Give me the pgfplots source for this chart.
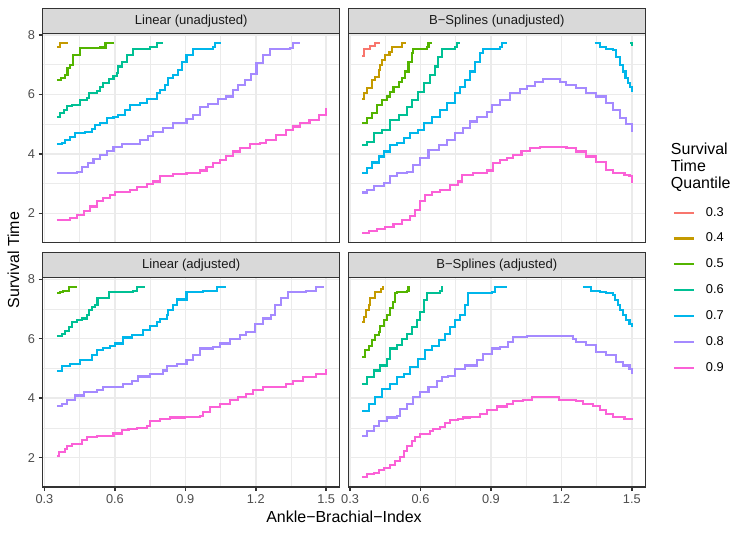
\documentclass[border=0pt]{standalone}
\usepackage{pgfplots}
\pgfplotsset{compat=1.18}
\usepackage{fontspec}
\setmainfont{Liberation Sans}
\definecolor{q3}{HTML}{F8766D}
\definecolor{q4}{HTML}{C49A00}
\definecolor{q5}{HTML}{53B400}
\definecolor{q6}{HTML}{00C094}
\definecolor{q7}{HTML}{00B6EB}
\definecolor{q8}{HTML}{A58AFF}
\definecolor{q9}{HTML}{FB61D7}
\definecolor{grey92}{HTML}{EBEBEB}
\definecolor{grey85}{HTML}{D9D9D9}
\definecolor{grey20}{HTML}{333333}
\definecolor{grey30}{HTML}{4D4D4D}
\definecolor{grey10}{HTML}{1A1A1A}
\pgfplotsset{
  panel/.style={
    scale only axis, width=213.84pt, height=150.768pt,
    xmin=0.2925, xmax=1.5575, ymin=1.011, ymax=8.057,
    xtick={0.3,0.6,0.9,1.2,1.5}, ytick={2,4,6,8},
    minor xtick={0.45,0.75,1.05,1.35}, minor ytick={1,3,5,7},
    grid=both,
    major grid style={draw=grey92, line width=1.07pt},
    minor grid style={draw=grey92, line width=0.53pt},
    axis line style={draw=grey20, line width=1.07pt},
    tick align=outside, tick pos=left,
    major tick length=2.9pt, minor tick length=0pt,
    major tick style={draw=grey20, line width=1.07pt},
    tick label style={font=\fontsize{9.2}{11}\selectfont, text=grey30},
    /pgf/number format/assume math mode=true,
    xticklabel style={anchor=north, inner sep=0pt, yshift=-2.4pt},
    yticklabel style={anchor=east, inner sep=0pt, xshift=-2.4pt},
    every axis plot/.append style={const plot, line width=1.5pt, mark=none},
  },
  noxlab/.style={xticklabels={,,,,,}, xtick style={draw=none}},
  noylab/.style={yticklabels={,,,,,}, ytick style={draw=none}},
}
\begin{document}
\begin{tikzpicture}[x=0.72pt,y=0.72pt]
\path[use as bounding box] (0,0) rectangle (747,534);

% ---------------- Linear (unadjusted)
\begin{axis}[panel, noxlab, at={(30.744pt,209.736pt)}, anchor=south west]
\addplot[color=q4] coordinates {(0.353,7.585) (0.366,7.742) (0.399,7.742)};
\addplot[color=q5] coordinates {(0.353,6.49) (0.372,6.56) (0.386,6.66) (0.398,6.88) (0.410,7.00) (0.420,7.33) (0.450,7.55) (0.537,7.58) (0.560,7.74) (0.597,7.74)};
\addplot[color=q6] coordinates {(0.353,5.23) (0.368,5.37) (0.382,5.48) (0.396,5.61) (0.417,5.65) (0.452,5.81) (0.481,5.87) (0.488,6.04) (0.523,6.13) (0.537,6.24) (0.551,6.37) (0.573,6.51) (0.594,6.62) (0.608,6.73) (0.615,6.94) (0.629,7.10) (0.651,7.33) (0.679,7.52) (0.750,7.61) (0.778,7.74) (0.806,7.74)};
\addplot[color=q7] coordinates {(0.353,4.33) (0.375,4.38) (0.389,4.47) (0.410,4.58) (0.431,4.69) (0.474,4.73) (0.502,4.83) (0.516,4.97) (0.537,5.05) (0.566,5.20) (0.594,5.25) (0.615,5.31) (0.644,5.48) (0.665,5.65) (0.707,5.70) (0.736,5.84) (0.778,6.04) (0.792,6.15) (0.813,6.32) (0.827,6.54) (0.848,6.66) (0.869,6.82) (0.884,7.10) (0.905,7.33) (0.931,7.52) (1.018,7.61) (1.026,7.74) (1.054,7.74)};
\addplot[color=q8] coordinates {(0.353,3.35) (0.438,3.40) (0.460,3.57) (0.484,3.68) (0.509,3.82) (0.537,3.96) (0.566,4.11) (0.594,4.24) (0.629,4.32) (0.679,4.32) (0.707,4.47) (0.742,4.61) (0.764,4.75) (0.806,4.86) (0.848,5.05) (0.905,5.16) (0.933,5.31) (0.961,5.59) (0.997,5.68) (1.040,5.84) (1.075,5.93) (1.104,6.15) (1.125,6.32) (1.153,6.49) (1.181,6.69) (1.203,7.05) (1.231,7.33) (1.259,7.52) (1.344,7.55) (1.358,7.74) (1.387,7.74)};
\addplot[color=q9] coordinates {(0.353,1.76) (0.382,1.78) (0.410,1.83) (0.438,1.95) (0.467,2.09) (0.495,2.23) (0.523,2.40) (0.551,2.51) (0.580,2.62) (0.601,2.73) (0.665,2.79) (0.693,2.90) (0.736,2.98) (0.764,3.07) (0.792,3.26) (0.848,3.33) (0.905,3.37) (0.961,3.44) (0.990,3.57) (1.018,3.68) (1.047,3.80) (1.075,3.93) (1.104,4.08) (1.132,4.19) (1.174,4.32) (1.217,4.36) (1.245,4.47) (1.287,4.64) (1.330,4.81) (1.358,4.92) (1.387,5.05) (1.429,5.14) (1.471,5.31) (1.500,5.53)};
\end{axis}

% ---------------- B-Splines (unadjusted)
\begin{axis}[panel, noxlab, noylab, at={(250.776pt,209.736pt)}, anchor=south west,
  legend style={draw=none, fill=none, inner sep=0pt, outer sep=0pt,
    at={(1.0923,0.170)}, anchor=north west, row sep=10.7pt,
    font=\fontsize{9.2}{11}\selectfont, nodes={inner sep=0pt},
    /tikz/every odd column/.append style={column sep=7.6pt}},
  legend cell align=left,
  legend image code/.code={\draw[#1, line width=1.5pt] (0pt,0pt) -- (14.8pt,0pt);}]
\addplot[color=q3] coordinates {(0.351,7.30) (0.360,7.52) (0.386,7.62) (0.407,7.74) (0.429,7.74)};
\addlegendentry{0.3}
\addplot[color=q4] coordinates {(0.351,5.84) (0.361,6.04) (0.372,6.21) (0.393,6.49) (0.408,6.60) (0.422,6.82) (0.429,6.99) (0.436,7.16) (0.450,7.33) (0.468,7.44) (0.478,7.59) (0.514,7.61) (0.521,7.74) (0.538,7.74)};
\addlegendentry{0.4}
\addplot[color=q5] coordinates {(0.351,5.05) (0.372,5.20) (0.393,5.37) (0.415,5.65) (0.436,5.81) (0.457,5.93) (0.471,6.09) (0.485,6.26) (0.507,6.43) (0.521,6.54) (0.535,6.77) (0.549,7.10) (0.563,7.38) (0.570,7.52) (0.627,7.61) (0.634,7.74) (0.648,7.74)};
\addlegendentry{0.5}
\addplot[color=q6] coordinates {(0.351,4.30) (0.372,4.41) (0.400,4.69) (0.436,4.81) (0.471,5.14) (0.507,5.31) (0.542,5.59) (0.563,5.81) (0.591,6.09) (0.613,6.37) (0.641,6.66) (0.662,6.94) (0.676,7.27) (0.690,7.52) (0.747,7.61) (0.754,7.74) (0.768,7.74)};
\addlegendentry{0.6}
\addplot[color=q7] coordinates {(0.351,3.37) (0.372,3.52) (0.393,3.71) (0.422,3.91) (0.443,4.08) (0.471,4.30) (0.500,4.36) (0.528,4.53) (0.556,4.69) (0.591,4.81) (0.613,5.03) (0.648,5.25) (0.683,5.48) (0.712,5.70) (0.747,6.04) (0.768,6.26) (0.790,6.49) (0.811,6.77) (0.832,7.10) (0.854,7.38) (0.868,7.52) (0.939,7.61) (0.946,7.74) (0.967,7.74)};
\addlegendentry{0.7}
\addplot[color=q8] coordinates {(0.351,2.70) (0.372,2.77) (0.400,2.92) (0.443,3.01) (0.471,3.24) (0.500,3.35) (0.542,3.40) (0.570,3.63) (0.599,3.85) (0.634,4.13) (0.677,4.30) (0.712,4.47) (0.747,4.69) (0.782,4.86) (0.811,5.09) (0.839,5.25) (0.882,5.42) (0.903,5.65) (0.938,5.81) (0.981,6.04) (1.023,6.17) (1.052,6.29) (1.087,6.43) (1.122,6.51) (1.193,6.43) (1.221,6.32) (1.264,6.21) (1.306,6.04) (1.349,5.93) (1.391,5.70) (1.420,5.48) (1.448,5.20) (1.476,5.01) (1.501,4.72)};
\addlegendentry{0.8}
\addplot[color=q9] coordinates {(0.351,1.33) (0.379,1.39) (0.415,1.46) (0.450,1.53) (0.485,1.64) (0.521,1.76) (0.556,1.91) (0.577,2.11) (0.599,2.40) (0.620,2.62) (0.648,2.73) (0.683,2.79) (0.726,2.96) (0.761,3.07) (0.775,3.29) (0.825,3.35) (0.882,3.44) (0.910,3.68) (0.938,3.80) (0.967,3.85) (0.995,3.96) (1.030,4.11) (1.066,4.19) (1.108,4.22) (1.179,4.22) (1.222,4.19) (1.264,4.08) (1.306,3.91) (1.349,3.74) (1.391,3.46) (1.420,3.37) (1.469,3.29) (1.490,3.24) (1.501,3.03)};
\addlegendentry{0.9}
\addplot[color=q6, forget plot] coordinates {(1.494,7.74) (1.500,7.62)};
\addplot[color=q7, forget plot] coordinates {(1.342,7.74) (1.365,7.61) (1.391,7.52) (1.420,7.50) (1.434,7.27) (1.448,6.99) (1.462,6.77) (1.473,6.54) (1.483,6.37) (1.493,6.24) (1.501,6.09)};
\end{axis}

% ---------------- Linear (adjusted)
\begin{axis}[panel, at={(30.744pt,33.84pt)}, anchor=south west]
\addplot[color=q5] coordinates {(0.353,7.55) (0.368,7.58) (0.380,7.60) (0.403,7.74) (0.438,7.74)};
\addplot[color=q6] coordinates {(0.353,6.08) (0.375,6.15) (0.389,6.26) (0.403,6.38) (0.417,6.57) (0.438,6.62) (0.460,6.68) (0.481,6.79) (0.488,6.96) (0.502,7.08) (0.516,7.13) (0.526,7.36) (0.573,7.58) (0.679,7.62) (0.693,7.74) (0.728,7.74)};
\addplot[color=q7] coordinates {(0.353,4.91) (0.375,5.07) (0.410,5.16) (0.452,5.27) (0.502,5.44) (0.523,5.61) (0.551,5.70) (0.580,5.75) (0.601,5.84) (0.636,6.04) (0.672,6.11) (0.707,6.14) (0.721,6.29) (0.750,6.42) (0.778,6.57) (0.792,6.66) (0.820,6.79) (0.827,6.96) (0.848,7.13) (0.866,7.32) (0.905,7.58) (0.976,7.62) (1.033,7.74) (1.075,7.74)};
\addplot[color=q8] coordinates {(0.353,3.73) (0.375,3.81) (0.396,3.94) (0.431,4.09) (0.467,4.20) (0.523,4.28) (0.551,4.37) (0.601,4.37) (0.636,4.48) (0.672,4.59) (0.700,4.73) (0.750,4.82) (0.806,4.93) (0.820,5.07) (0.863,5.16) (0.905,5.27) (0.933,5.44) (0.961,5.67) (1.018,5.72) (1.047,5.84) (1.089,6.00) (1.132,6.12) (1.160,6.23) (1.195,6.51) (1.231,6.68) (1.266,6.79) (1.280,7.13) (1.308,7.36) (1.337,7.58) (1.415,7.62) (1.457,7.74) (1.492,7.74)};
\addplot[color=q9] coordinates {(0.353,2.06) (0.360,2.20) (0.389,2.28) (0.396,2.40) (0.417,2.45) (0.460,2.59) (0.481,2.70) (0.523,2.73) (0.594,2.81) (0.629,2.93) (0.658,2.96) (0.693,2.99) (0.736,3.07) (0.750,3.24) (0.792,3.30) (0.834,3.35) (0.898,3.38) (0.961,3.41) (0.975,3.52) (1.004,3.69) (1.047,3.81) (1.089,3.94) (1.125,4.05) (1.160,4.14) (1.189,4.26) (1.231,4.37) (1.302,4.39) (1.330,4.48) (1.358,4.59) (1.401,4.71) (1.457,4.82) (1.500,4.99)};
\end{axis}

% ---------------- B-Splines (adjusted)
\begin{axis}[panel, noylab, at={(250.776pt,33.84pt)}, anchor=south west]
\addplot[color=q4] coordinates {(0.351,6.57) (0.361,6.74) (0.369,6.96) (0.379,7.13) (0.386,7.36) (0.407,7.58) (0.432,7.66) (0.440,7.74) (0.446,7.74)};
\addplot[color=q5] coordinates {(0.351,5.38) (0.365,5.61) (0.379,5.75) (0.393,5.95) (0.408,6.12) (0.422,6.23) (0.429,6.42) (0.443,6.62) (0.457,6.79) (0.471,7.02) (0.483,7.24) (0.492,7.53) (0.499,7.58) (0.542,7.62) (0.549,7.74) (0.556,7.74)};
\addplot[color=q6] coordinates {(0.351,4.48) (0.372,4.71) (0.400,4.93) (0.429,5.10) (0.457,5.33) (0.471,5.67) (0.500,5.78) (0.521,6.00) (0.542,6.17) (0.563,6.40) (0.584,6.62) (0.598,6.91) (0.613,7.30) (0.627,7.55) (0.683,7.62) (0.690,7.74) (0.697,7.74)};
\addplot[color=q7] coordinates {(0.351,3.58) (0.379,3.81) (0.408,4.03) (0.436,4.31) (0.471,4.48) (0.500,4.71) (0.528,4.82) (0.556,5.05) (0.591,5.33) (0.620,5.61) (0.648,5.75) (0.677,5.95) (0.705,6.17) (0.726,6.40) (0.747,6.62) (0.768,6.79) (0.790,7.13) (0.804,7.55) (0.903,7.58) (0.917,7.74) (0.967,7.74)};
\addplot[color=q7] coordinates {(1.292,7.74) (1.327,7.62) (1.363,7.58) (1.391,7.53) (1.420,7.47) (1.427,7.30) (1.441,7.13) (1.448,6.96) (1.462,6.79) (1.476,6.62) (1.490,6.51) (1.501,6.38)};
\addplot[color=q8] coordinates {(0.351,2.73) (0.372,2.90) (0.400,3.07) (0.422,3.24) (0.457,3.35) (0.500,3.41) (0.514,3.64) (0.542,3.81) (0.570,4.03) (0.599,4.20) (0.634,4.37) (0.669,4.59) (0.690,4.71) (0.719,4.76) (0.747,4.99) (0.790,5.10) (0.839,5.27) (0.867,5.50) (0.903,5.67) (0.938,5.72) (0.974,5.89) (0.995,6.06) (1.052,6.08) (1.250,6.00) (1.264,5.89) (1.306,5.78) (1.349,5.55) (1.391,5.44) (1.434,5.21) (1.462,5.10) (1.490,4.99) (1.501,4.82)};
\addplot[color=q9] coordinates {(0.351,1.35) (0.372,1.44) (0.400,1.49) (0.422,1.57) (0.443,1.64) (0.471,1.75) (0.492,1.89) (0.514,2.02) (0.528,2.23) (0.542,2.40) (0.563,2.56) (0.577,2.68) (0.599,2.79) (0.641,2.88) (0.655,2.96) (0.683,3.02) (0.705,3.15) (0.726,3.28) (0.761,3.30) (0.782,3.35) (0.811,3.38) (0.853,3.47) (0.882,3.60) (0.924,3.72) (0.967,3.81) (0.995,3.90) (1.037,3.94) (1.073,4.05) (1.190,3.94) (1.264,3.92) (1.292,3.81) (1.335,3.75) (1.363,3.60) (1.391,3.47) (1.420,3.38) (1.469,3.30) (1.501,3.28)};
\end{axis}

% ---------------- strips
\begin{scope}[line width=1.07pt]
\draw[fill=grey85, draw=grey20] (42.7,500.7) rectangle (339.7,525.7);
\draw[fill=grey85, draw=grey20] (348.3,500.7) rectangle (645.3,525.7);
\draw[fill=grey85, draw=grey20] (42.7,256.4) rectangle (339.7,281.4);
\draw[fill=grey85, draw=grey20] (348.3,256.4) rectangle (645.3,281.4);
\end{scope}
\begin{scope}[every node/.style={font=\fontsize{9.4}{11}\selectfont, text=grey10, inner sep=0pt}]
\node at (191.2,513.2) {Linear (unadjusted)};
\node at (496.8,513.2) {B−Splines (unadjusted)};
\node at (191.2,268.9) {Linear (adjusted)};
\node at (496.8,268.9) {B−Splines (adjusted)};
\end{scope}

% ---------------- axis titles
\node[font=\fontsize{11.5}{13}\selectfont, inner sep=0pt, rotate=90] at (13.3,274) {Survival Time};
\node[font=\fontsize{11.5}{13}\selectfont, inner sep=0pt] at (344,17.3) {Ankle−Brachial−Index};

% ---------------- legend title
\begin{scope}[every node/.style={font=\fontsize{11.5}{13}\selectfont, inner sep=0pt, anchor=base west}]
\node at (670.7,379) {Survival};
\node at (670.7,362) {Time};
\node at (670.7,345.3) {Quantile};
\end{scope}
\end{tikzpicture}
\end{document}
